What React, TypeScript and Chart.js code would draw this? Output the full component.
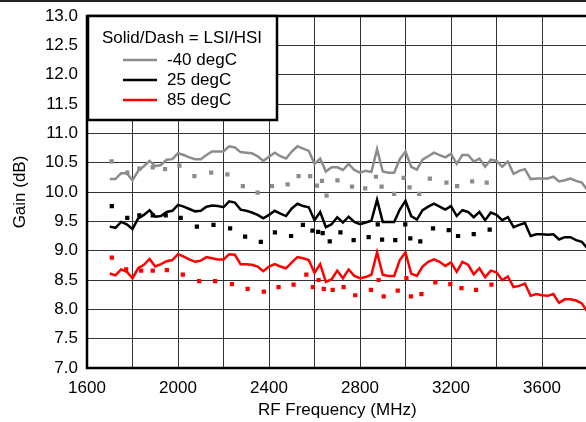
import React, { useEffect, useRef } from "react";
import { Chart, registerables } from "chart.js";

Chart.register(...registerables);

// ---------- data ----------
const FREQ_LSI = [
  1700, 1725, 1750, 1775, 1800, 1825, 1850, 1875, 1900, 1925, 1950, 1975,
  2000, 2025, 2050, 2075, 2100, 2125, 2150, 2175, 2200, 2225, 2250, 2275,
  2300, 2325, 2350, 2375, 2400, 2425, 2450, 2475, 2500, 2525, 2550, 2575,
  2600, 2625, 2650, 2675, 2700, 2725, 2750, 2775, 2800, 2825, 2850, 2875,
  2900, 2925, 2950, 2975, 3000, 3025, 3050, 3075, 3100, 3125, 3150, 3175,
  3200, 3225, 3250, 3275, 3300, 3325, 3350, 3375, 3400, 3425, 3450, 3475,
  3500, 3525, 3550, 3575, 3600, 3625, 3650, 3675, 3700, 3725, 3750, 3775,
  3800,
];

const LSI_M40 = [
  10.22, 10.22, 10.32, 10.32, 10.2, 10.36, 10.44, 10.53, 10.44, 10.46, 10.55, 10.56,
  10.66, 10.63, 10.59, 10.56, 10.56, 10.63, 10.69, 10.69, 10.69, 10.78, 10.76, 10.68,
  10.67, 10.66, 10.61, 10.53, 10.6, 10.67, 10.61, 10.57, 10.69, 10.78, 10.74, 10.7,
  10.48, 10.57, 10.35, 10.42, 10.42, 10.375, 10.48, 10.375, 10.33, 10.36, 10.34, 10.73,
  10.35, 10.33, 10.33, 10.56, 10.69, 10.43, 10.38, 10.55, 10.61, 10.67, 10.63, 10.59,
  10.65, 10.48, 10.63, 10.63, 10.52, 10.57, 10.43, 10.55, 10.53, 10.43, 10.52, 10.31,
  10.36, 10.39, 10.22, 10.23, 10.23, 10.23, 10.26, 10.18, 10.2, 10.23, 10.19, 10.16,
  10.03,
];

const LSI_25 = [
  9.41, 9.39, 9.49, 9.45, 9.37, 9.55, 9.61, 9.69, 9.58, 9.59, 9.66, 9.68,
  9.78, 9.75, 9.71, 9.67, 9.68, 9.75, 9.77, 9.76, 9.74, 9.84, 9.82, 9.7,
  9.68, 9.65, 9.61, 9.55, 9.61, 9.68, 9.63, 9.59, 9.72, 9.8, 9.76, 9.74,
  9.52, 9.66, 9.4, 9.45, 9.57, 9.48, 9.58, 9.49, 9.45, 9.48, 9.51, 9.87,
  9.49, 9.49, 9.49, 9.7, 9.85, 9.59, 9.53, 9.69, 9.75, 9.8, 9.75, 9.7,
  9.76, 9.59, 9.69, 9.66, 9.57, 9.66, 9.52, 9.65, 9.61, 9.52, 9.57, 9.4,
  9.44, 9.47, 9.25, 9.28, 9.28, 9.27, 9.28, 9.19, 9.23, 9.23, 9.18, 9.15,
  9.04,
];

const LSI_85 = [
  8.61, 8.58, 8.68, 8.64, 8.53, 8.7, 8.76, 8.86, 8.73, 8.77, 8.82, 8.84,
  8.94, 8.9, 8.85, 8.81, 8.83, 8.89, 8.87, 8.85, 8.85, 8.94, 8.93, 8.77,
  8.77, 8.76, 8.73, 8.65, 8.73, 8.77, 8.73, 8.7, 8.8, 8.89, 8.87, 8.84,
  8.62, 8.77, 8.47, 8.51, 8.66, 8.53, 8.68, 8.57, 8.53, 8.55, 8.59, 8.97,
  8.59, 8.57, 8.57, 8.84, 8.97, 8.61, 8.57, 8.73, 8.81, 8.85, 8.81, 8.74,
  8.8, 8.64, 8.81, 8.76, 8.6, 8.7, 8.55, 8.66, 8.63, 8.5, 8.56, 8.38,
  8.4, 8.44, 8.23, 8.26, 8.24, 8.23, 8.26, 8.11, 8.17, 8.17, 8.15, 8.1,
  7.96,
];

const HSI_M40_FREQ = [
  1708, 1777, 1830, 1889, 1943, 2006, 2072, 2146, 2217, 2285, 2350, 2413,
  2482, 2530, 2581, 2611, 2633, 2653, 2701, 2765, 2823, 2870, 2895, 2950,
  2992, 3018, 3060, 3107, 3180, 3227, 3293, 3357,
];
const HSI_M40 = [
  10.52, 10.33, 10.4, 10.42, 10.39, 10.45, 10.27, 10.33, 10.3, 10.1, 9.99, 10.1,
  10.13, 10.27, 10.27, 10.11, 10.19, 9.94, 10.2, 10.09, 10.06, 10.26, 10.09, 9.97,
  10.24, 10.08, 9.97, 10.23, 10.16, 10.1, 10.18, 10.16,
];

const HSI_25_FREQ = [
  1709, 1777, 1830, 1889, 1946, 2012, 2083, 2156, 2229, 2295, 2364, 2426,
  2497, 2549, 2591, 2616, 2636, 2667, 2714, 2772, 2838, 2878, 2897, 2955,
  2999, 3021, 3065, 3121, 3190, 3231, 3300, 3370,
];
const HSI_25 = [
  9.76, 9.56, 9.6, 9.6, 9.6, 9.56, 9.41, 9.44, 9.38, 9.24, 9.15, 9.31,
  9.25, 9.44, 9.34, 9.32, 9.3, 9.16, 9.31, 9.18, 9.23, 9.45, 9.19, 9.18,
  9.45, 9.21, 9.16, 9.38, 9.35, 9.25, 9.28, 9.36,
];

const HSI_85_FREQ = [
  1709, 1772, 1838, 1889, 1951, 2021, 2093, 2163, 2237, 2306, 2377, 2442,
  2508, 2564, 2593, 2618, 2641, 2680, 2728, 2779, 2848, 2882, 2904, 2966,
  3004, 3024, 3070, 3131, 3197, 3246, 3310, 3378,
];
const HSI_85 = [
  8.88, 8.68, 8.66, 8.66, 8.67, 8.59, 8.48, 8.48, 8.43, 8.35, 8.3, 8.38,
  8.42, 8.59, 8.38, 8.5, 8.35, 8.33, 8.38, 8.24, 8.33, 8.5, 8.22, 8.32,
  8.53, 8.22, 8.26, 8.46, 8.43, 8.36, 8.33, 8.42,
];

const SERIES_NAMES = ["-40 degC", "25 degC", "85 degC"];
const SERIES_COLORS = ["#8c8c8c", "#000000", "#ff0000"];
const LEGEND_TITLE = "Solid/Dash = LSI/HSI";
const X_TITLE = "RF Frequency (MHz)";
const Y_TITLE = "Gain (dB)";
const X_MIN = 1600;
const X_MAX = 3800;
const X_STEP = 200;
const X_LABEL_STEP = 400;
const Y_MIN = 7;
const Y_MAX = 13;
const Y_STEP = 0.5;

const FONT_FAMILY = '"Liberation Sans", Arial, Helvetica, sans-serif';
const FONT_SIZE = 17;

const toXY = (xs: number[], ys: number[]) => xs.map((x, i) => ({ x, y: ys[i] }));

const framePlugin = {
  id: "frameAndLegend",
  afterDraw(chart: any) {
    const { ctx, chartArea: a } = chart;
    ctx.save();
    ctx.strokeStyle = "#000";
    ctx.lineWidth = 2.5;
    ctx.strokeRect(a.left, a.top, a.right - a.left, a.bottom - a.top);

    // legend box
    const lx = a.left + 1;
    const ly = a.top;
    const lw = 189;
    const lh = 104;
    ctx.fillStyle = "#fff";
    ctx.fillRect(lx, ly, lw, lh);
    ctx.strokeRect(lx, ly, lw, lh);

    ctx.font = `${FONT_SIZE}px ${FONT_FAMILY}`;
    ctx.fillStyle = "#000";
    ctx.textBaseline = "middle";
    ctx.textAlign = "center";
    ctx.fillText(LEGEND_TITLE, lx + 94, ly + 22);

    ctx.textAlign = "left";
    SERIES_NAMES.forEach((name, i) => {
      const yy = ly + 44 + i * 20;
      ctx.strokeStyle = SERIES_COLORS[i];
      ctx.lineWidth = 2.5;
      ctx.beginPath();
      ctx.moveTo(lx + 35, yy);
      ctx.lineTo(lx + 69, yy);
      ctx.stroke();
      ctx.fillStyle = "#000";
      ctx.fillText(name, lx + 79, yy);
    });
    ctx.restore();
  },
};

export default function App() {
  const canvasRef = useRef<HTMLCanvasElement | null>(null);

  useEffect(() => {
    if (!canvasRef.current) return;
    Chart.defaults.font.family = FONT_FAMILY;
    Chart.defaults.font.size = FONT_SIZE;
    Chart.defaults.color = "#000";

    const lsi = [LSI_M40, LSI_25, LSI_85];
    const hsiF = [HSI_M40_FREQ, HSI_25_FREQ, HSI_85_FREQ];
    const hsi = [HSI_M40, HSI_25, HSI_85];

    const datasets: any[] = [];
    SERIES_NAMES.forEach((name, i) => {
      datasets.push({
        label: name + " LSI",
        data: toXY(FREQ_LSI, lsi[i]),
        borderColor: SERIES_COLORS[i],
        backgroundColor: SERIES_COLORS[i],
        borderWidth: 2.5,
        pointRadius: 0,
        tension: 0,
        fill: false,
      });
      datasets.push({
        label: name + " HSI",
        data: toXY(hsiF[i], hsi[i]),
        showLine: false,
        borderColor: SERIES_COLORS[i],
        backgroundColor: SERIES_COLORS[i],
        borderWidth: 0,
        pointStyle: "rect",
        pointRadius: 3,
        borderDash: [3, 12],
      });
    });

    const chart = new Chart(canvasRef.current, {
      type: "line",
      data: { datasets },
      plugins: [framePlugin],
      options: {
        animation: false,
        responsive: false,
        maintainAspectRatio: false,
        devicePixelRatio: 1,
        layout: { padding: { top: 16, right: 12.5, left: 0, bottom: 0 } },
        plugins: {
          legend: { display: false },
          tooltip: { enabled: false },
          title: { display: false },
        },
        scales: {
          x: {
            type: "linear",
            min: X_MIN,
            max: X_MAX,
            border: { display: false },
            grid: { color: "#333", lineWidth: 1, drawTicks: false },
            ticks: {
              stepSize: X_STEP,
              autoSkip: false,
              maxRotation: 0,
              padding: 10,
              color: "#000",
              callback: (v: any) =>
                (Number(v) - X_MIN) % X_LABEL_STEP === 0 && Number(v) < X_MAX ? String(v) : "",
            },
            title: {
              display: true,
              text: X_TITLE,
              color: "#000",
              padding: { top: 0, bottom: 1.8 },
            },
            afterFit: (s: any) => {
              s.height = 54;
              s.paddingLeft = 0;
              s.paddingRight = 0;
            },
          },
          y: {
            type: "linear",
            min: Y_MIN,
            max: Y_MAX,
            border: { display: false },
            grid: { color: "#333", lineWidth: 1, drawTicks: false },
            ticks: {
              stepSize: Y_STEP,
              padding: 9,
              color: "#000",
              callback: (v: any) => Number(v).toFixed(1),
            },
            title: {
              display: true,
              text: Y_TITLE,
              color: "#000",
              padding: { top: 10, bottom: 0 },
            },
            afterFit: (s: any) => {
              s.width = 87;
              s.paddingTop = 0;
              s.paddingBottom = 0;
            },
          },
        },
      },
    });
    return () => chart.destroy();
  }, []);

  return (
    <div
      style={{
        position: "absolute",
        left: 0,
        top: 0,
        width: 586,
        height: 422,
        overflow: "hidden",
        background: "#fff",
      }}
    >
      <canvas
        ref={canvasRef}
        width={600}
        height={422}
        style={{ display: "block", width: 600, height: 422 }}
      />
      <div
        style={{
          position: "absolute",
          left: 0,
          top: 0,
          width: 586,
          height: 2,
          background: "#222",
        }}
      />
    </div>
  );
}
